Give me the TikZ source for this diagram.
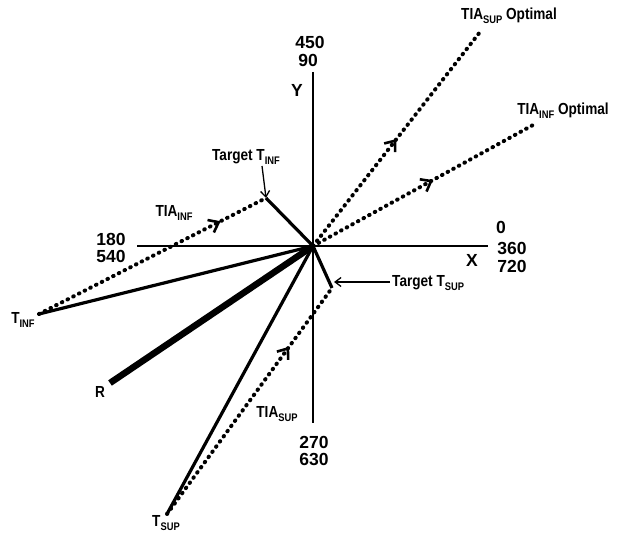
\documentclass[tikz,border=0pt]{standalone}
\usepackage{fontspec}
\setmainfont[FakeStretch=0.85]{Liberation Sans}
\newfontfamily\numfont{Liberation Sans}
\usetikzlibrary{arrows.meta,decorations.markings}
\tikzset{
 axisln/.style={line width=2pt},
 solidln/.style={line width=3.2pt},
 heavyln/.style={line width=6.5pt},
 dotln/.style={line width=4pt, line cap=round, dash pattern=on 0.6pt off 5.8pt},
 midarrow/.style={postaction={decorate}, decoration={markings, mark=at position #1 with {\arrow{Straight Barb[length=9pt,width=14pt,line width=2.6pt]}}}},
 pointer/.style={line width=1.3pt, -{Straight Barb[length=6pt,width=9pt]}},
 num/.style={font=\numfont\bfseries\fontsize{17.5}{17}\selectfont, inner sep=0pt},
 lbl/.style={font=\bfseries\fontsize{16}{16}\selectfont, inner sep=0pt},
}
\newcommand\subtxt[1]{\raisebox{-0.45ex}{\fontsize{11}{11}\selectfont #1}}
\begin{document}
\begin{tikzpicture}[x=1pt,y=-1pt]
\useasboundingbox (0,0) rectangle (626,537);
% key points
\coordinate (O) at (313,246);
\coordinate (Ytop) at (313,72);
\coordinate (Ybot) at (313,423);
\coordinate (Xl) at (137,246);
\coordinate (Xr) at (488,246);
\coordinate (TTI) at (266,198);
\coordinate (TTS) at (332,288);
\coordinate (TI) at (39,314);
\coordinate (TS) at (167,514);
\coordinate (R) at (110,383);
\coordinate (OS) at (480,32);
\coordinate (OI) at (533,125);
\coordinate (p1) at (262,166);
\coordinate (p2) at (334,282);
% axes
\draw[axisln] (Ytop) -- (Ybot);
\draw[axisln] (Xl) -- (Xr);
% dotted vectors
\draw[dotln, midarrow=0.8] (TI) -- (TTI);
\draw[dotln, midarrow=0.74] (TS) -- (TTS);
\draw[dotln, midarrow=0.5] (O) -- (OS);
\draw[dotln, midarrow=0.545] (O) -- (OI);
% solid vectors
\draw[solidln] (TI) -- (O);
\draw[solidln] (TS) -- (O);
\draw[solidln] (TTI) -- (O);
\draw[solidln] (TTS) -- (O);
\draw[heavyln] (R) -- (O);
% axis labels
\node[num] (n450) at (310,42) {450};
\node[num] (n90) at (308,60) {90};
\node[num] (nY) at (297,90) {Y};
\node[num] (n180) at (111,239) {180};
\node[num] (n540) at (111,256) {540};
\node[num] (n0) at (501,227) {0};
\node[num] (n360) at (512,248) {360};
\node[num] (n720) at (512,266) {720};
\node[num] (nX) at (472,260) {X};
\node[num] (n270) at (314,442) {270};
\node[num] (n630) at (314,459) {630};
% vector labels
\node[lbl] (lti) at (23,320) {T\subtxt{INF}};
\node[lbl] (lts) at (166,523) {T\subtxt{SUP}};
\node[lbl] (lr) at (100,392) {R};
\node[lbl] (ltiai) at (174,213) {TIA\subtxt{INF}};
\node[lbl] (ltias) at (277,414) {TIA\subtxt{SUP}};
\node[lbl] (los) at (509,16) {TIA\subtxt{SUP} Optimal};
\node[lbl] (loi) at (563,111) {TIA\subtxt{INF} Optimal};
\node[lbl] (ltti) at (246,157) {Target T\subtxt{INF}};
\node[lbl, anchor=west] (ltts) at (392,283) {Target T\subtxt{SUP}};
% pointers
\draw[pointer] (p1) -- (TTI);
\draw[pointer] (ltts.west) ++(-2,-1) -- (p2);
\end{tikzpicture}
\end{document}
